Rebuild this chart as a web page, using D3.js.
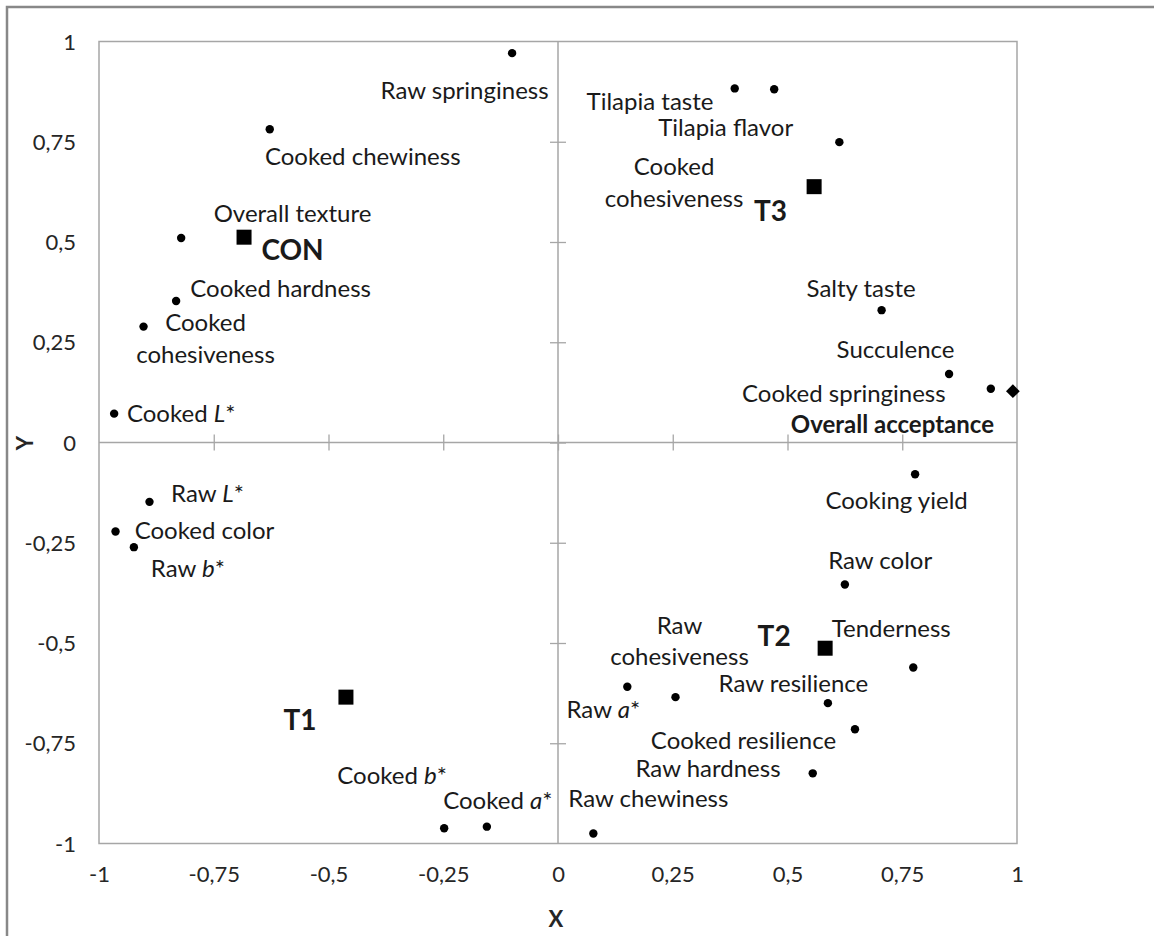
<!DOCTYPE html>
<html>
<head>
<meta charset="utf-8">
<script src="https://cdn.jsdelivr.net/npm/d3@7"></script>
<style>
  html, body { margin: 0; padding: 0; background: #fff; }
  svg { display: block; }
  text { font-family: Lato, "Open Sans", sans-serif; }
</style>
</head>
<body>
<svg id="chart" width="1154" height="936"></svg>
<script>
// Sensory and instrumental attributes (loadings on X and Y)
const attrNames = [
  "Raw springiness", "Cooked chewiness", "Overall texture", "Cooked hardness",
  "Cooked cohesiveness", "Cooked L*", "Raw L*", "Cooked color", "Raw b*",
  "Cooked b*", "Cooked a*", "Raw chewiness", "Raw a*", "Raw cohesiveness",
  "Raw resilience", "Cooked resilience", "Raw hardness", "Tenderness",
  "Raw color", "Cooking yield", "Salty taste", "Succulence",
  "Cooked springiness", "Tilapia taste", "Tilapia flavor", "Cooked cohesiveness"
];
const attrX = [
  -0.100, -0.628, -0.821, -0.832,
  -0.903, -0.967, -0.890, -0.964, -0.924,
  -0.248, -0.155, 0.077, 0.151, 0.256,
  0.588, 0.647, 0.555, 0.774,
  0.625, 0.778, 0.705, 0.852,
  0.943, 0.385, 0.471, 0.613
];
const attrY = [
  0.971, 0.781, 0.510, 0.353,
  0.289, 0.072, -0.148, -0.222, -0.261,
  -0.962, -0.958, -0.975, -0.609, -0.635,
  -0.650, -0.715, -0.825, -0.561,
  -0.354, -0.079, 0.330, 0.171,
  0.134, 0.883, 0.881, 0.749
];

// Treatments
const treatNames = ["CON", "T1", "T2", "T3"];
const treatX = [-0.684, -0.462, 0.582, 0.558];
const treatY = [0.512, -0.635, -0.513, 0.638];

// Overall acceptance
const accName = "Overall acceptance";
const accX = 0.991;
const accY = 0.128;

// Axis ticks
const tickValues = [-1, -0.75, -0.5, -0.25, 0, 0.25, 0.5, 0.75, 1];
const xTitle = "X";
const yTitle = "Y";

// ---- label placement (pixel offsets from the marker to the label centre) ----
const attrLabelPos = [
  [-47.5, 37], [93, 27], [111.4, -24.7], [104.5, -12.7],
  [62, -4, true], [67, 0], [58, -8.4], [89, -1], [54, 21],
  [-52, -52.3], [11, -25.7], [55, -35], [-24, 23.3], [4, -71.6, true],
  [-34.5, -19.3], [-111.5, 11.4], [-104.7, -4.3], [-22, -39.3],
  [35.3, -24.3], [-18.5, 26], [-20.5, -21.7], [-53.5, -24],
  [-147, 4.6], [-84.7, 12.7], [-48.5, 38.7], [-165.3, 24.7, true]
];
const treatLabelPos = [[48.5, 12.7], [-46, 23], [-51, -12.3], [-43.7, 25]];
const accLabelPos = [-120.5, 33];

const svg = d3.select("#chart");
const W = 1154, H = 936;

const x = d3.scaleLinear().domain([-1, 1]).range([99, 1017]);
const y = d3.scaleLinear().domain([-1, 1]).range([843.5, 41.5]);

const locale = d3.formatLocale({
  decimal: ",", thousands: ".", grouping: [3], currency: ["", ""], minus: "-"
});
const fmt = locale.format("~g");

// Outer chart frame
svg.append("rect")
  .attr("x", 7).attr("y", 7)
  .attr("width", W + 20).attr("height", H + 20)
  .attr("fill", "none").attr("stroke", "#888").attr("stroke-width", 2.5);

// Plot area border
svg.append("rect")
  .attr("x", x(-1)).attr("y", y(1))
  .attr("width", x(1) - x(-1)).attr("height", y(-1) - y(1))
  .attr("fill", "none").attr("stroke", "#a6a6a6").attr("stroke-width", 1.5);

const inner = tickValues.filter(v => v !== -1 && v !== 1);

// Horizontal axis through Y = 0 with crossing ticks
const xAxisLine = svg.append("g")
  .attr("transform", `translate(0,${y(0) - 8})`)
  .call(d3.axisBottom(x).tickValues(inner).tickSize(16).tickSizeOuter(0).tickFormat(""));
xAxisLine.select(".domain").remove();
xAxisLine.selectAll(".tick line").attr("stroke", "#a6a6a6").attr("stroke-width", 1.3);
svg.append("line")
  .attr("x1", x(-1)).attr("x2", x(1)).attr("y1", y(0)).attr("y2", y(0))
  .attr("stroke", "#a6a6a6").attr("stroke-width", 1.5);

// Vertical axis through X = 0 with crossing ticks
const yAxisLine = svg.append("g")
  .attr("transform", `translate(${x(0) + 8},0)`)
  .call(d3.axisLeft(y).tickValues(inner).tickSize(16).tickSizeOuter(0).tickFormat(""));
yAxisLine.select(".domain").remove();
yAxisLine.selectAll(".tick line").attr("stroke", "#a6a6a6").attr("stroke-width", 1.3);
svg.append("line")
  .attr("x1", x(0)).attr("x2", x(0)).attr("y1", y(1)).attr("y2", y(-1))
  .attr("stroke", "#a6a6a6").attr("stroke-width", 1.5);

// Tick labels along the bottom and left edges
const xLab = svg.append("g")
  .attr("transform", `translate(0,${y(-1)})`)
  .call(d3.axisBottom(x).tickValues(tickValues).tickSize(0).tickPadding(0).tickFormat(fmt));
xLab.select(".domain").remove();
xLab.selectAll(".tick text")
  .attr("y", 31).attr("dy", "0.35em")
  .attr("fill", "#262626").style("font-size", "22px").style("font-family", "Lato, sans-serif");

const yLab = svg.append("g")
  .attr("transform", `translate(${x(-1)},0)`)
  .call(d3.axisLeft(y).tickValues(tickValues).tickSize(0).tickPadding(0).tickFormat(fmt));
yLab.select(".domain").remove();
yLab.selectAll(".tick text")
  .attr("x", 76 - x(-1)).attr("dy", "0.35em")
  .attr("fill", "#262626").style("font-size", "22px").style("font-family", "Lato, sans-serif");

// Axis titles
svg.append("text")
  .attr("x", 556).attr("y", 919).attr("dy", "0.35em")
  .attr("text-anchor", "middle")
  .style("font-size", "22px").style("font-weight", "bold").attr("fill", "#262626")
  .text(xTitle);
svg.append("text")
  .attr("transform", "translate(25,443) rotate(-90)")
  .attr("dy", "0.35em")
  .attr("text-anchor", "middle")
  .style("font-size", "22px").style("font-weight", "bold").attr("fill", "#262626")
  .text(yTitle);

// Label writer: italicises a colour coordinate letter (L*, a*, b*) and wraps two-word labels
function writeLabel(sel, name, cx, cy, opts) {
  const t = svg.append("text")
    .attr("x", cx).attr("y", cy)
    .attr("text-anchor", "middle")
    .attr("fill", "#1a1a1a")
    .style("font-size", opts.size + "px")
    .style("font-weight", opts.bold ? "bold" : "normal");
  if (opts.wrap) {
    const parts = name.split(" ");
    t.append("tspan").attr("x", cx).attr("dy", "0.35em").text(parts[0]);
    t.append("tspan").attr("x", cx).attr("dy", 31.5).text(parts.slice(1).join(" "));
    return;
  }
  const m = name.match(/^(.*\s)([Lab])(\*)$/);
  if (m) {
    t.attr("dy", "0.35em");
    t.append("tspan").text(m[1]);
    t.append("tspan").style("font-style", "italic").text(m[2]);
    t.append("tspan").text(m[3]);
  } else {
    t.attr("dy", "0.35em").text(name);
  }
}

// Attribute points
const attrs = attrNames.map((n, i) => ({ name: n, x: attrX[i], y: attrY[i], pos: attrLabelPos[i] }));
svg.append("g").selectAll("circle").data(attrs).join("circle")
  .attr("cx", d => x(d.x)).attr("cy", d => y(d.y)).attr("r", 4.2).attr("fill", "#000");
attrs.forEach(d => {
  writeLabel(svg, d.name, x(d.x) + d.pos[0], y(d.y) + d.pos[1], { size: 24, wrap: !!d.pos[2] });
});

// Treatment points
const treats = treatNames.map((n, i) => ({ name: n, x: treatX[i], y: treatY[i], pos: treatLabelPos[i] }));
const sq = 15;
svg.append("g").selectAll("rect").data(treats).join("rect")
  .attr("x", d => x(d.x) - sq / 2).attr("y", d => y(d.y) - sq / 2)
  .attr("width", sq).attr("height", sq).attr("fill", "#000");
treats.forEach(d => {
  writeLabel(svg, d.name, x(d.x) + d.pos[0], y(d.y) + d.pos[1], { size: 28, bold: true });
});

// Overall acceptance
svg.append("path")
  .attr("d", d3.symbol().type(d3.symbolDiamond2).size(120)())
  .attr("transform", `translate(${x(accX)},${y(accY)})`)
  .attr("fill", "#000");
writeLabel(svg, accName, x(accX) + accLabelPos[0], y(accY) + accLabelPos[1], { size: 24, bold: true });
</script>
</body>
</html>
